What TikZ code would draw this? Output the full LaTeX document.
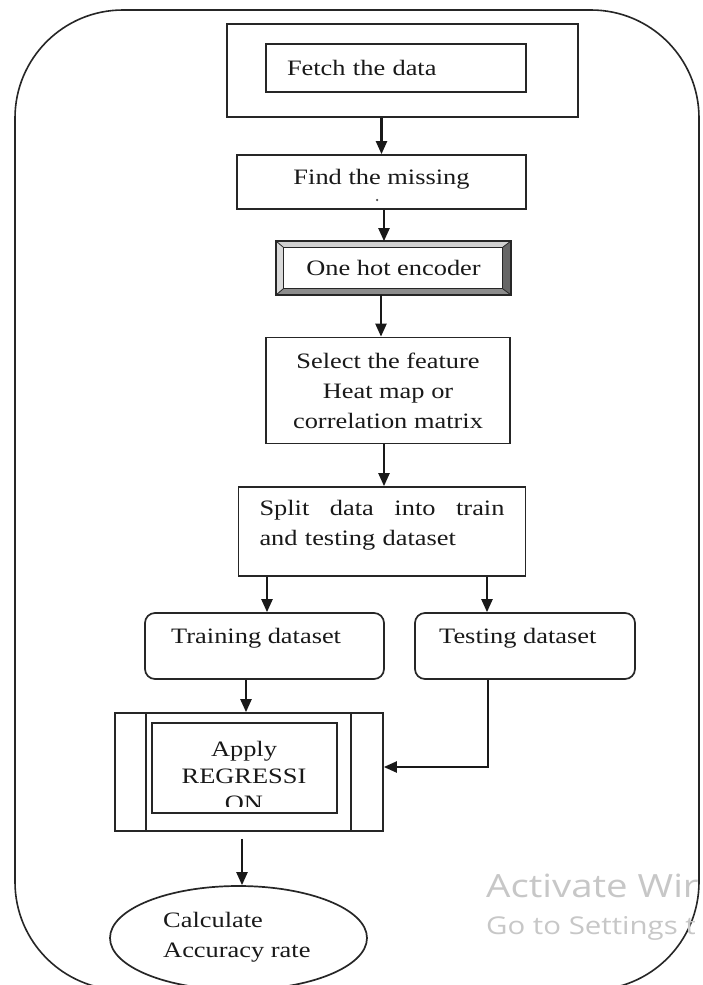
\documentclass[tikz,border=0pt]{standalone}
\usepackage{fontspec}
\setmainfont{Liberation Serif}[FakeStretch=1.2]
\newfontfamily\wmfont{Open Sans}[FakeStretch=1.2]
\usetikzlibrary{arrows.meta,shapes.geometric}
\begin{document}
\begin{tikzpicture}[x=1pt,y=-1pt,
  every node/.style={font=\fontsize{22}{30}\selectfont, text=black!90},
  box/.style={draw=black!85, line width=1.7pt, inner sep=0pt, align=center},
  rbox/.style={box, rounded corners=10pt},
  frame/.style={draw=black!85, line width=1.6pt, rounded corners=108pt, inner sep=0pt},
  arr/.style={draw=black!90, line width=2.2pt, -{Triangle[length=13pt,width=11pt]}},
  txt/.style={inner sep=0pt, align=left, anchor=west},
  wm/.style={text=black!22, inner sep=0pt, anchor=west},
  thin/.style={draw=black!85, line width=1.7pt}
]
\clip (0,0) rectangle (702,985);
\fill[white] (0,0) rectangle (702,985);

% outer frame
\node[frame, minimum width=684, minimum height=980] (frame) at (357,500) {};

% fetch
\node[box, minimum width=351, minimum height=93] (fetchout) at (402.5,70.5) {};
\node[box, minimum width=260, minimum height=48, text width=218pt, inner xsep=21pt, align=left] (fetchin) at (396,68) {Fetch the data};

% find
\node[box, minimum width=289, minimum height=54] (find) at (381.5,182) {};
\node[inner sep=0pt] (findtxt) at (381.5,179) {Find the missing};
\node[circle, fill=black!70, inner sep=0pt, minimum size=2.5pt] (dot) at (377,200) {};

% one hot encoder (bevel box)
\node[box, minimum width=233, minimum height=52] (onehot) at (393.5,268) {One hot encoder};
\coordinate (oNW) at (onehot.north west);
\coordinate (oNE) at (onehot.north east);
\coordinate (oSE) at (onehot.south east);
\coordinate (oSW) at (onehot.south west);
\coordinate (iNW) at ([shift={(7,6)}]onehot.north west);
\coordinate (iNE) at ([shift={(-8,6)}]onehot.north east);
\coordinate (iSE) at ([shift={(-8,-6)}]onehot.south east);
\coordinate (iSW) at ([shift={(7,-6)}]onehot.south west);
\fill[black!18] (oNW) -- (oNE) -- (iNE) -- (iNW) -- cycle;
\fill[black!15] (oNW) -- (iNW) -- (iSW) -- (oSW) -- cycle;
\fill[black!45] (oSW) -- (iSW) -- (iSE) -- (oSE) -- cycle;
\fill[black!60] (oNE) -- (iNE) -- (iSE) -- (oSE) -- cycle;
\draw[thin] (oNW) rectangle (oSE);
\draw[thin, line width=1.1pt] (iNW) rectangle (iSE);
\draw[thin, line width=0.8pt] (oNW) -- (iNW) (oNE) -- (iNE) (oSE) -- (iSE) (oSW) -- (iSW);

% select
\node[box, minimum width=244, minimum height=106] (select) at (388,390.5) {Select the feature\\Heat map or\\correlation matrix};

% split
\node[box, minimum width=287, minimum height=89] (split) at (382,531.5) {};
\node[inner sep=0pt, text width=245pt, align=left] (splittxt) at ([shift={(0,-6)}]split.center) {\hbox to 245pt{Split\hfill data\hfill into\hfill train}\\and testing dataset};

% training / testing
\node[rbox, minimum width=239, minimum height=66] (training) at (264.5,646) {};
\node[txt] (trainingtxt) at (171,638) {Training dataset};
\node[rbox, minimum width=220, minimum height=66] (testing) at (525,646) {};
\node[txt] (testingtxt) at (439,638) {Testing dataset};

% apply regression (predefined process)
\node[box, minimum width=268, minimum height=118] (apply) at (249,772) {};
\draw[thin] ([xshift=32pt]apply.north west) -- ([xshift=32pt]apply.south west)
            ([xshift=-33pt]apply.north east) -- ([xshift=-33pt]apply.south east);
\node[box, minimum width=185, minimum height=90] (applyin) at (244.5,768) {};
\begin{scope}
  \clip (152,723) rectangle (337,806);
  \node[inner sep=0pt, align=center, font=\fontsize{22}{27}\selectfont] (applytxt) at (244,776) {Apply\\REGRESSI\\ON};
\end{scope}

% accuracy ellipse
\node[draw=black!85, line width=1.7pt, ellipse, minimum width=257, minimum height=104, inner sep=0pt] (acc) at (238.5,938) {};
\node[txt] (acctxt) at (163,937) {Calculate\\Accuracy rate};

% arrows
\draw[arr] (find.north |- fetchout.south) -- (find.north);
\coordinate (a2) at ([xshift=2.5pt]find.south);
\draw[arr] (a2) -- (a2 |- onehot.north);
\coordinate (a3) at ([xshift=-12.5pt]onehot.south);
\draw[arr] (a3) -- (a3 |- select.north);
\coordinate (a4) at ([xshift=-4pt]select.south);
\draw[arr] (a4) -- (a4 |- split.north);
\coordinate (a5) at ([xshift=2.5pt]training.north);
\draw[arr] (a5 |- split.south) -- (a5);
\coordinate (a6) at ([xshift=-38pt]testing.north);
\draw[arr] (a6 |- split.south) -- (a6);
\coordinate (a7) at ([xshift=-18.5pt]training.south);
\draw[arr] (a7) -- (a7 |- apply.north);
\coordinate (a8) at ([xshift=-37pt]testing.south);
\coordinate (a8e) at ([shift={(0,-5)}]apply.east);
\draw[arr] (a8) |- (a8e);
\coordinate (a9) at ([shift={(-7,7)}]apply.south);
\draw[arr] (a9) -- (a9 |- acc.north);

% watermark
\node[wm, font=\wmfont\fontsize{32}{32}\selectfont] (wm1) at (486,886) {Activate Wir};
\node[wm, font=\wmfont\fontsize{24.5}{24.5}\selectfont] (wm2) at (486,928) {Go to Settings t};
\end{tikzpicture}
\end{document}
